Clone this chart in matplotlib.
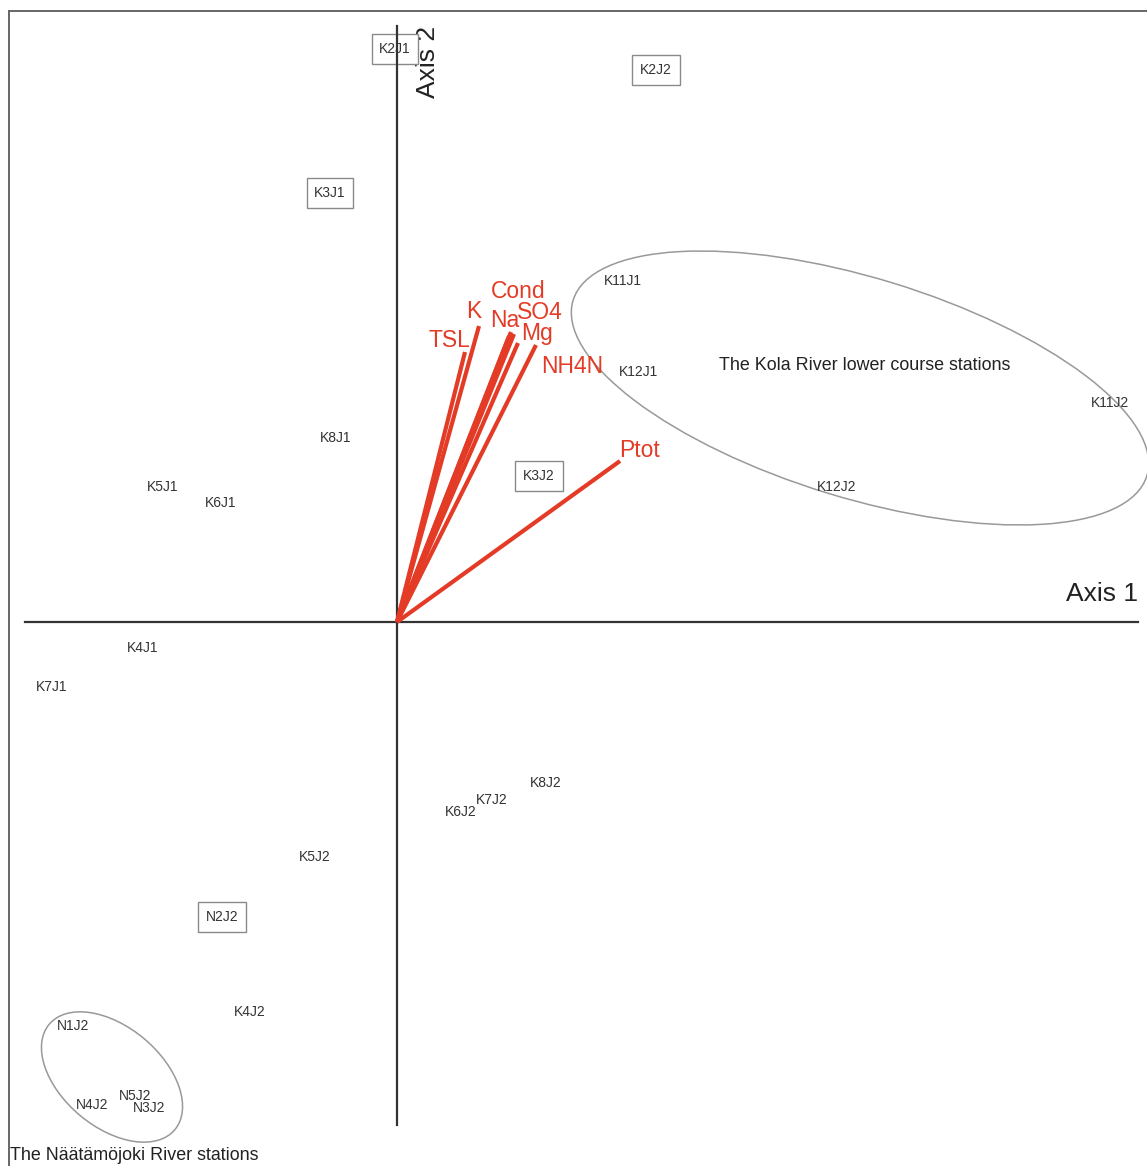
import matplotlib.pyplot as plt
from matplotlib.patches import Ellipse

plt.rcParams['font.family'] = ['Liberation Sans', 'DejaVu Sans']

# station scores (axis 1, axis 2)
stations = ['K2J1', 'K2J2', 'K3J1', 'K11J1', 'K12J1', 'K11J2', 'K12J2', 'K8J1',
            'K5J1', 'K6J1', 'K3J2', 'K4J1', 'K7J1', 'K8J2', 'K7J2', 'K6J2',
            'K5J2', 'N2J2', 'K4J2', 'N1J2', 'N4J2', 'N5J2', 'N3J2']
ax1 = [-0.02, 2.59, -0.67, 2.26, 2.42, 7.13, 4.40, -0.61,
       -2.34, -1.76, 1.42, -2.54, -3.45, 1.49, 0.95, 0.64,
       -0.82, -1.75, -1.47, -3.24, -3.05, -2.62, -2.48]
ax2 = [5.73, 5.52, 4.29, 3.41, 2.50, 2.19, 1.35, 1.84,
       1.35, 1.19, 1.46, -0.26, -0.65, -1.61, -1.78, -1.90,
       -2.35, -2.95, -3.90, -4.04, -4.83, -4.74, -4.86]
boxed = ['K2J1', 'K2J2', 'K3J1', 'K3J2', 'N2J2']

# environmental variable vectors
variables = ['TSL', 'K', 'Na', 'Cond', 'SO4', 'Mg', 'NH4N', 'Ptot']
vec1 = [0.68, 0.82, 1.14, 1.12, 1.17, 1.21, 1.39, 2.23]
vec2 = [2.70, 2.96, 2.90, 2.86, 2.88, 2.79, 2.77, 1.61]
# label offsets in points
lab_dx = [-11.5, -3.6, -4.3, 6.5, 18.7, 13.7, 25.9, 13.7]
lab_dy = [8.6, 10.1, 8.6, 32.4, 15.8, 6.5, -15.8, 7.9]

red = '#e43b26'

fig = plt.figure(figsize=(11.47, 11.66), dpi=100)
ax = fig.add_axes([0, 0, 1, 1])
ax.set_xlim(-3.97, 7.50)
ax.set_ylim(-5.44, 6.22)
ax.axis('off')

# frame of the original figure
ax.plot([-3.88, -3.88], [6.11, -6.0], color='#666666', lw=1.4, zorder=1)
ax.plot([-3.88, 8.0], [6.11, 6.11], color='#666666', lw=1.4, zorder=1)

# ordination axes
ax.plot([0, 0], [5.96, -5.03], color='#333333', lw=1.6, zorder=4)
ax.plot([-3.72, 7.41], [0, 0], color='#333333', lw=1.6, zorder=4)
ax.text(0.31, 5.60, 'Axis 2', rotation=90, fontsize=19, color='#222222',
        ha='center', va='center')
ax.text(7.05, 0.28, 'Axis 1', fontsize=19, color='#222222',
        ha='center', va='center')

# vectors
for name, x, y, dx, dy in zip(variables, vec1, vec2, lab_dx, lab_dy):
    ax.plot([0, x], [0, y], color=red, lw=3.0, solid_capstyle='butt', zorder=5)
    ax.annotate(name, (x, y), xytext=(dx, dy), textcoords='offset points',
                fontsize=16.5, color=red, ha='center', va='center', zorder=6)

# stations
for name, x, y in zip(stations, ax1, ax2):
    if name in boxed:
        ax.text(x, y, name, fontsize=10, color='#333333', ha='center', va='center',
                zorder=3, bbox=dict(boxstyle='square,pad=0.55', fc='white',
                                    ec='#8a8a8a', lw=1))
    else:
        ax.text(x, y, name, fontsize=10, color='#333333', ha='center',
                va='center', zorder=3)

# groups
ax.add_patch(Ellipse((4.63, 2.34), 6.0, 2.2, angle=-17, fill=False,
                     ec='#999999', lw=1.1, zorder=2))
ax.add_patch(Ellipse((-2.85, -4.55), 1.64, 1.0, angle=-40, fill=False,
                     ec='#999999', lw=1.1, zorder=2))
ax.text(4.68, 2.56, 'The Kola River lower course stations', fontsize=12.9,
        color='#222222', ha='center', va='center')
ax.text(-3.87, -5.425, 'The Näätämöjoki River stations', fontsize=12.9,
        color='#222222', ha='left', va='bottom')

fig.savefig('out.png', dpi=100)
